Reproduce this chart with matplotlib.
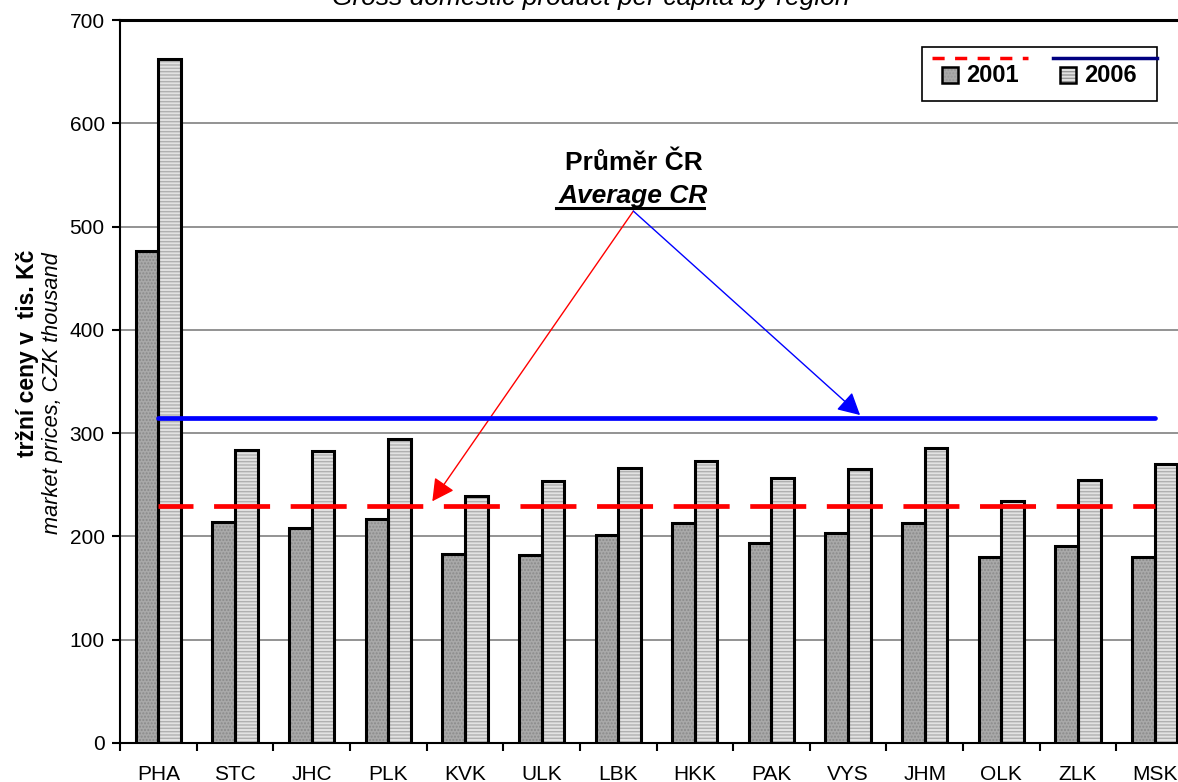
import numpy as np
import matplotlib.pyplot as plt
from matplotlib.patches import Rectangle
from matplotlib.lines import Line2D

plt.rcParams['font.family'] = ['Liberation Sans', 'DejaVu Sans']

regions = ['PHA', 'STC', 'JHC', 'PLK', 'KVK', 'ULK', 'LBK',
           'HKK', 'PAK', 'VYS', 'JHM', 'OLK', 'ZLK', 'MSK']
gdp_2001 = [476, 214, 208, 217, 183, 182, 201, 213, 194, 203, 213, 180, 191, 180]
gdp_2006 = [662, 284, 283, 294, 239, 254, 266, 273, 257, 265, 286, 234, 255, 270]
avg_2001 = 229.5
avg_2006 = 314.5
years = ['2001', '2006']

W, H = 1178, 782
fig = plt.figure(figsize=(W / 100, H / 100), dpi=100)
ax = fig.add_axes([120 / W, 39 / H, 1073 / W, 723 / H])

x = np.arange(len(regions))
bw = 0.295

# fill with pattern first, black outline on top
ax.bar(x - bw / 2, gdp_2001, bw, color='#a9a9a9', hatch='.....',
       edgecolor='#8a8a8a', linewidth=0, zorder=3)
ax.bar(x + bw / 2, gdp_2006, bw, color='#e2e2e2', hatch='-----',
       edgecolor='#b0b0b0', linewidth=0, zorder=3)
ax.bar(x - bw / 2, gdp_2001, bw, fill=False, edgecolor='black', linewidth=2.2, zorder=4)
ax.bar(x + bw / 2, gdp_2006, bw, fill=False, edgecolor='black', linewidth=2.2, zorder=4)

ax.plot([x[0], x[-1]], [avg_2006, avg_2006], color='#0000ff', lw=3.4,
        solid_capstyle='round', zorder=5)
ax.plot([x[0], x[-1]], [avg_2001, avg_2001], color='#ff0000', lw=3.4,
        linestyle=(4.45, (11.86, 4.36)), zorder=5)

ax.set_xlim(-0.5, len(regions) - 0.5)
ax.set_ylim(0, 700)
ax.set_yticks(range(0, 701, 100))
ax.yaxis.grid(True, color='#808080', lw=1.2, zorder=0)
ax.set_axisbelow(True)
ax.set_xticks(x)
ax.set_xticklabels(regions)
ax.set_xticks(np.arange(-0.5, len(regions), 1), minor=True)
ax.tick_params(axis='x', which='major', length=0, pad=16, labelsize=15)
ax.tick_params(axis='x', which='minor', length=6, width=1.5, direction='out')
ax.tick_params(axis='y', length=6, width=1.5, labelsize=15, pad=5)
ax.spines['right'].set_visible(False)
ax.spines['top'].set_linewidth(2.2)
ax.spines['left'].set_linewidth(1.5)
ax.spines['bottom'].set_linewidth(1.5)

# annotation
ax.text(6.2, 554.7, 'Průměr ČR', ha='center', va='baseline', fontsize=19, fontweight='bold')
ax.text(6.2, 522.5, 'Average CR', ha='center', va='baseline', fontsize=19,
        fontweight='bold', fontstyle='italic')
ax.plot([5.19, 7.12], [517.6, 517.6], color='black', lw=2.2)
head = '-|>,head_length=1.35,head_width=0.72'
ax.annotate('', xy=(3.575, 234), xytext=(6.198, 515),
            arrowprops=dict(arrowstyle=head, color='#ff0000', lw=1.0,
                            shrinkA=0, shrinkB=0))
ax.annotate('', xy=(9.156, 317.5), xytext=(6.198, 515),
            arrowprops=dict(arrowstyle=head, color='#0000ff', lw=1.0,
                            shrinkA=0, shrinkB=0))

# title, cut off at the top
fig.text(591 / W, 1 - 5 / H, 'Gross domestic product per capita by region', ha='center',
         va='baseline', fontsize=19, fontstyle='italic')

# y label (two lines)
fig.text(28 / W, 1 - 250 / H, 'tržní ceny v  tis. Kč', rotation=90, ha='center',
         va='top', fontsize=16.5, fontweight='bold')
fig.text(53 / W, 1 - 252 / H, 'market prices, CZK thousand', rotation=90, ha='center',
         va='top', fontsize=15.7, fontstyle='italic')

# legend drawn by hand
tr = fig.transFigure
fig.patches.append(Rectangle((922 / W, 1 - 101 / H), 235 / W, 54 / H, transform=tr,
                             fill=False, edgecolor='black', lw=1.2))
fig.lines.append(Line2D([932 / W, 1028 / W], [1 - 58 / H] * 2, transform=tr,
                        color='#ff0000', lw=2.5, dashes=(3.5, 3)))
fig.lines.append(Line2D([1053 / W, 1157 / W], [1 - 58 / H] * 2, transform=tr,
                        color='#000080', lw=2.5))
for xs, fc, hatch, lab in [(942, '#a9a9a9', '.....', years[0]),
                           (1060, '#e2e2e2', '-----', years[1])]:
    fig.patches.append(Rectangle((xs / W, 1 - 83 / H), 16 / W, 16 / H, transform=tr,
                                 facecolor=fc, hatch=hatch, edgecolor='#999999', lw=0))
    fig.patches.append(Rectangle((xs / W, 1 - 83 / H), 16 / W, 16 / H, transform=tr,
                                 fill=False, edgecolor='black', lw=1.8))
    fig.text((xs + 24) / W, 1 - 75 / H, lab, ha='left', va='center', fontsize=17,
             fontweight='bold')

fig.savefig('out.png', dpi=100)
